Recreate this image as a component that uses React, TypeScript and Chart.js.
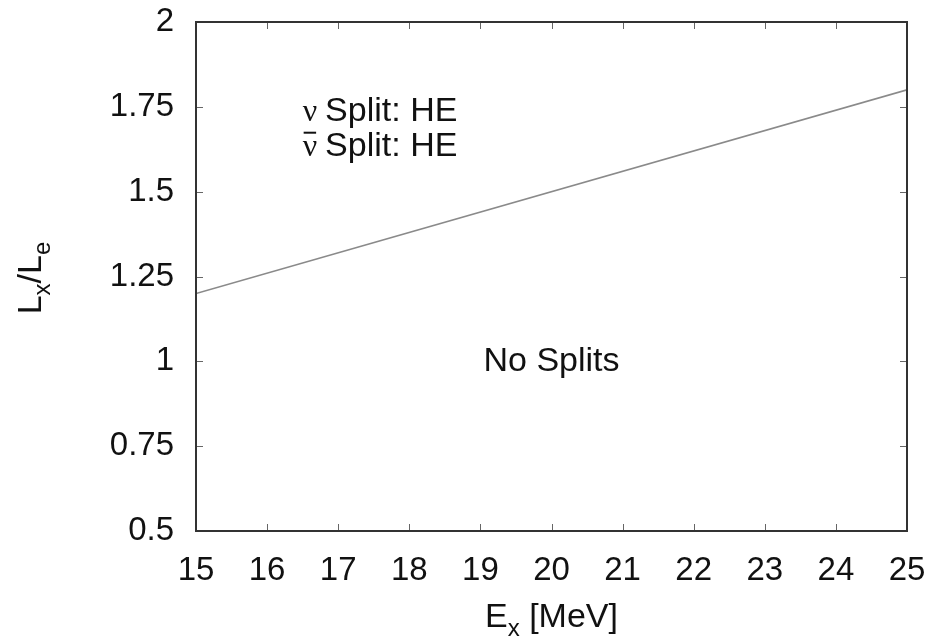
import React, { useEffect, useRef } from "react";
import { Chart, registerables } from "chart.js";

Chart.register(...registerables);

const energies = [15, 25];
const ratio = [1.2, 1.8];
const xTicks = [15, 16, 17, 18, 19, 20, 21, 22, 23, 24, 25];
const yTicks = [0.5, 0.75, 1, 1.25, 1.5, 1.75, 2];
const regionLabels = [
  { x: 16.5, y: 1.709, text: "Split: HE", bar: false },
  { x: 16.5, y: 1.606, text: "Split: HE", bar: true },
];
const centerLabel = { x: 20, y: 1.0, text: "No Splits" };

const FONT = "'Liberation Sans', Arial, Helvetica, sans-serif";

const framePlugin = {
  id: "frame",
  afterDraw(chart: any) {
    const { ctx, chartArea: a, scales } = chart;
    const xs = scales.x;
    const ys = scales.y;
    ctx.save();
    // inward ticks
    ctx.strokeStyle = "#666";
    ctx.lineWidth = 1;
    ctx.beginPath();
    xTicks.forEach((v) => {
      const px = Math.round(xs.getPixelForValue(v)) + 0.5;
      ctx.moveTo(px, a.bottom);
      ctx.lineTo(px, a.bottom - 7);
      ctx.moveTo(px, a.top);
      ctx.lineTo(px, a.top + 7);
    });
    yTicks.forEach((v) => {
      const py = Math.round(ys.getPixelForValue(v)) + 0.5;
      ctx.moveTo(a.left, py);
      ctx.lineTo(a.left + 7, py);
      ctx.moveTo(a.right, py);
      ctx.lineTo(a.right - 7, py);
    });
    ctx.stroke();
    // frame
    ctx.strokeStyle = "#333";
    ctx.lineWidth = 2;
    ctx.strokeRect(a.left, a.top, a.right - a.left, a.bottom - a.top);

    ctx.fillStyle = "#111";
    ctx.textBaseline = "alphabetic";
    // region labels
    regionLabels.forEach((l) => {
      const px = xs.getPixelForValue(l.x);
      const py = ys.getPixelForValue(l.y);
      ctx.font = "32px 'Liberation Serif', 'DejaVu Serif', serif";
      ctx.textAlign = "left";
      ctx.fillText("ν", px, py);
      const nuW = ctx.measureText("ν").width;
      if (l.bar) {
        ctx.fillRect(px + 1, py - 24, nuW - 2, 2);
      }
      ctx.font = `34px ${FONT}`;
      ctx.fillText(l.text, px + nuW + 8, py);
    });
    // center label
    ctx.font = `34px ${FONT}`;
    ctx.textAlign = "center";
    ctx.textBaseline = "middle";
    ctx.fillText(
      centerLabel.text,
      xs.getPixelForValue(centerLabel.x),
      ys.getPixelForValue(centerLabel.y)
    );

    // x title: E_x [MeV]
    ctx.textBaseline = "alphabetic";
    ctx.textAlign = "left";
    const big = `34px ${FONT}`;
    const small = `24px ${FONT}`;
    const parts = [
      { t: "E", f: big, dy: 0 },
      { t: "x", f: small, dy: 9 },
      { t: " [MeV]", f: big, dy: 0 },
    ];
    let total = 0;
    parts.forEach((p) => {
      ctx.font = p.f;
      total += ctx.measureText(p.t).width;
    });
    let cx = (a.left + a.right) / 2 - total / 2;
    const by = 627;
    parts.forEach((p) => {
      ctx.font = p.f;
      ctx.fillText(p.t, cx, by + p.dy);
      cx += ctx.measureText(p.t).width;
    });

    // y title: L_x/L_e rotated
    const yparts = [
      { t: "L", f: big, dy: 0 },
      { t: "x", f: small, dy: 9 },
      { t: "/", f: big, dy: 0 },
      { t: "L", f: big, dy: 0 },
      { t: "e", f: small, dy: 9 },
    ];
    let ytotal = 0;
    yparts.forEach((p) => {
      ctx.font = p.f;
      ytotal += ctx.measureText(p.t).width;
    });
    ctx.translate(41, 278);
    ctx.rotate(-Math.PI / 2);
    let yx = -ytotal / 2;
    yparts.forEach((p) => {
      ctx.font = p.f;
      ctx.fillText(p.t, yx, p.dy);
      yx += ctx.measureText(p.t).width;
    });
    ctx.restore();
  },
};

export default function App() {
  const ref = useRef<HTMLCanvasElement | null>(null);
  useEffect(() => {
    if (!ref.current) return;
    const chart = new Chart(ref.current, {
      type: "line",
      data: {
        datasets: [
          {
            data: energies.map((e, i) => ({ x: e, y: ratio[i] })),
            borderColor: "#8a8a8a",
            borderWidth: 1.6,
            pointRadius: 0,
            fill: false,
            tension: 0,
          },
        ],
      },
      options: {
        animation: false,
        responsive: false,
        maintainAspectRatio: false,
        layout: { padding: { top: 22, right: 26, left: 0, bottom: 0 } },
        plugins: {
          legend: { display: false },
          tooltip: { enabled: false },
          title: { display: false },
        },
        scales: {
          x: {
            type: "linear",
            min: 15,
            max: 25,
            afterBuildTicks: (s: any) => {
              s.ticks = xTicks.map((v) => ({ value: v }));
            },
            afterFit: (s: any) => {
              s.height = 106;
              s.paddingLeft = 0;
              s.paddingRight = 0;
            },
            grid: { display: false, drawTicks: false },
            border: { display: false },
            ticks: {
              color: "#111",
              font: { family: FONT, size: 33 },
              padding: 20,
              maxRotation: 0,
              autoSkip: false,
            },
          },
          y: {
            type: "linear",
            min: 0.5,
            max: 2,
            afterBuildTicks: (s: any) => {
              s.ticks = yTicks.map((v) => ({ value: v }));
            },
            afterFit: (s: any) => {
              s.width = 196;
              s.paddingTop = 0;
              s.paddingBottom = 0;
            },
            grid: { display: false, drawTicks: false },
            border: { display: false },
            ticks: {
              color: "#111",
              font: { family: FONT, size: 33 },
              padding: 22,
              autoSkip: false,
              callback: (v: any) => String(v),
            },
          },
        },
      },
      plugins: [framePlugin],
    });
    return () => chart.destroy();
  }, []);
  return (
    <div style={{ position: "fixed", left: 0, top: 0, width: 933, height: 637, background: "#fff" }}>
      <canvas ref={ref} width={933} height={637} style={{ width: 933, height: 637 }} />
    </div>
  );
}
